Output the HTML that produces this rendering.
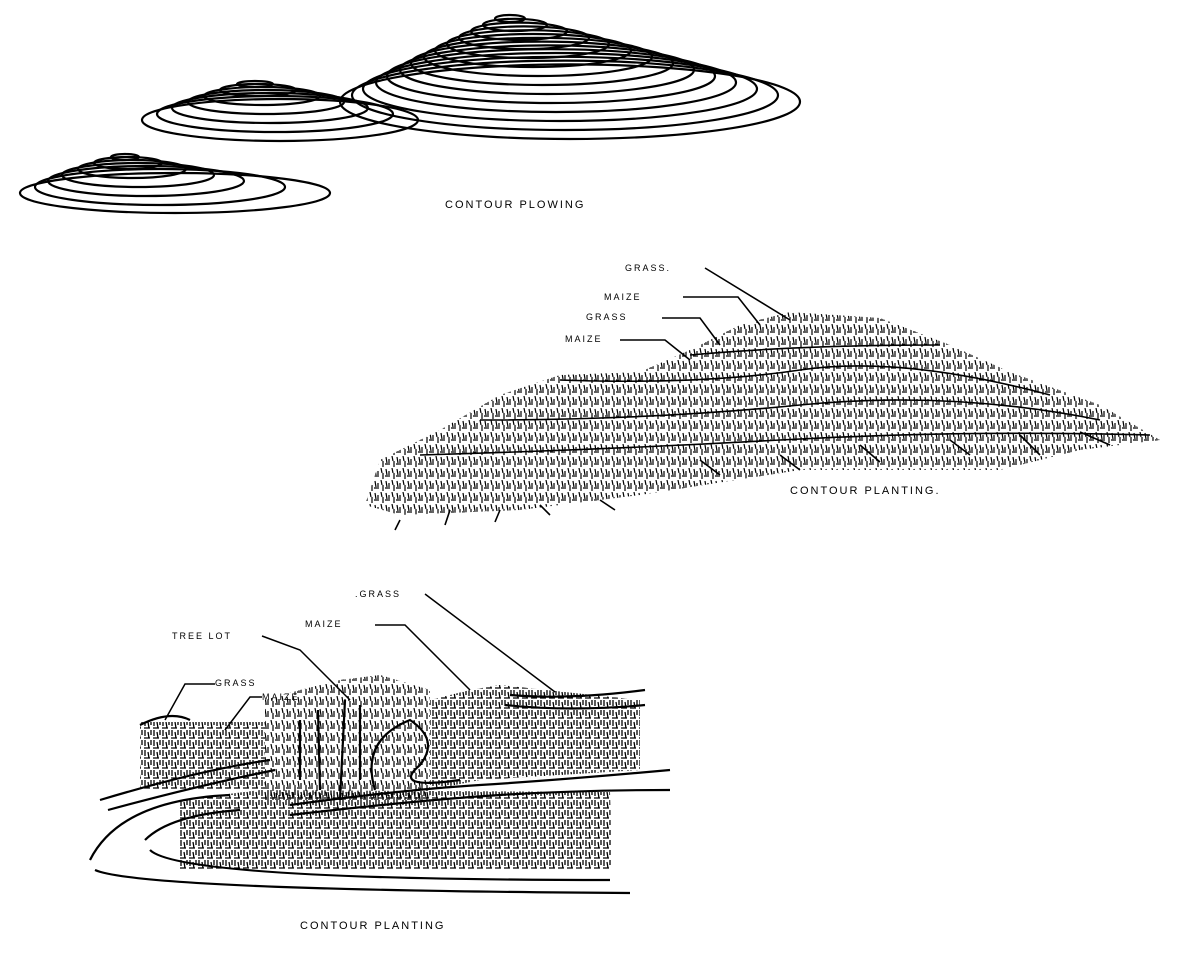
<!DOCTYPE html>
<html><head><meta charset="utf-8"><style>
html,body{margin:0;padding:0;background:#fff;}
svg{display:block}
text{font-family:"Liberation Sans",sans-serif;font-size:11px;fill:#000;letter-spacing:2px}
</style></head><body>
<svg width="1184" height="965" viewBox="0 0 1184 965" xmlns="http://www.w3.org/2000/svg">
<defs>
<pattern id="tx" width="11" height="12" patternUnits="userSpaceOnUse">
<path d="M1 1 L2 7 M4 3 L4 9 M7 0 L8 5 M9 5 L9 11 M0 8 L3 8" stroke="#000" stroke-width="1.2" fill="none"/>
</pattern>
<pattern id="tx2" width="9" height="10" patternUnits="userSpaceOnUse">
<path d="M1 0 L1 6 M4 2 L5 8 M7 0 L7 5 M0 8 L6 8" stroke="#000" stroke-width="1.3" fill="none"/>
</pattern>
</defs>
<g fill="none" stroke="#000" stroke-width="2.3" id="hills"></g>
<text x="445" y="208">CONTOUR PLOWING</text>

<path d="M365 505 L380 460 L440 430 L500 395 L560 375 L640 372 L690 350 L740 325 L790 312 L880 318 L950 345 L1010 372 L1100 405 L1160 440 L1080 450 L1000 470 L800 470 L640 495 L520 510 L400 515 Z" fill="url(#tx)"/>
<g fill="none" stroke="#000" stroke-width="1.6">
<path d="M560 380 Q700 385 800 370 T1050 395"/>
<path d="M480 420 Q650 420 800 405 T1100 420"/>
<path d="M420 455 Q600 450 780 440 T1150 435"/>
<path d="M690 355 Q800 345 940 345"/>
<path d="M400 520 L395 530 M450 510 L445 525 M500 510 L495 522 M540 505 L550 515 M600 500 L615 510 M700 460 L720 475 M780 455 L800 470 M860 445 L880 462 M950 440 L970 455 M1020 435 L1040 455 M1080 432 L1110 445"/>
<path d="M705 268 L790 320 M683 297 L738 297 L760 325 M662 318 L700 318 L720 345 M620 340 L665 340 L690 360"/>
</g>
<text x="625" y="271" style="font-size:9px">GRASS.</text>
<text x="604" y="300" style="font-size:9px">MAIZE</text>
<text x="586" y="320" style="font-size:9px">GRASS</text>
<text x="565" y="342" style="font-size:9px">MAIZE</text>
<text x="790" y="494">CONTOUR PLANTING.</text>

<rect x="140" y="722" width="125" height="68" fill="url(#tx2)"/>
<path d="M265 700 L300 690 L340 680 L380 675 L430 690 L430 800 L265 800 Z" fill="url(#tx)"/>
<path d="M430 700 L470 690 L500 685 L640 700 L640 770 L480 780 L430 790 Z" fill="url(#tx2)"/>
<path d="M180 800 L260 790 L610 792 L612 870 L180 870 Z" fill="url(#tx2)"/>
<g fill="none" stroke="#000" stroke-width="2.2">
<path d="M100 800 Q200 770 270 760"/>
<path d="M108 810 Q200 785 275 770"/>
<path d="M290 805 Q400 790 480 785 T670 770"/>
<path d="M290 815 Q420 800 500 795 T670 790"/>
<path d="M90 860 Q120 800 230 795"/>
<path d="M95 870 Q140 890 630 893"/>
<path d="M145 840 Q170 815 240 810"/>
<path d="M150 850 Q180 880 610 880"/>
<path d="M375 790 Q360 740 410 720 Q440 740 420 765 Q390 790 460 780"/>
<path d="M140 725 Q170 710 190 720"/>
<path d="M510 695 Q570 700 645 690 M505 705 Q570 712 645 705"/>
<path d="M300 780 L300 720 M320 790 L318 710 M340 800 L345 700 M360 780 L360 705"/>
</g>
<g fill="none" stroke="#000" stroke-width="1.5">
<path d="M425 594 L555 692 M375 625 L405 625 L470 690 M262 636 L300 650 L350 700 M215 684 L185 684 L165 720 M262 697 L250 697 L225 730"/>
</g>
<text x="355" y="597" style="font-size:9px">.GRASS</text>
<text x="305" y="627" style="font-size:9px">MAIZE</text>
<text x="172" y="639" style="font-size:9px">TREE LOT</text>
<text x="215" y="686" style="font-size:9px">GRASS</text>
<text x="262" y="700" style="font-size:9px">MAIZE</text>
<text x="300" y="929">CONTOUR PLANTING</text>

<g fill="none" stroke="#000" stroke-width="2.2">
<!-- big hill: top=15+3.8i, bottom=22+9i, cx 510->570, rx 15->230 -->
<ellipse cx="510" cy="18.5" rx="15" ry="3.5"/>
<ellipse cx="515" cy="24.9" rx="32" ry="6.1"/>
<ellipse cx="519" cy="31.3" rx="48" ry="8.7"/>
<ellipse cx="524" cy="37.7" rx="65" ry="11.3"/>
<ellipse cx="528" cy="44.1" rx="81" ry="13.9"/>
<ellipse cx="533" cy="50.5" rx="98" ry="16.5"/>
<ellipse cx="538" cy="56.9" rx="114" ry="19.1"/>
<ellipse cx="542" cy="63.3" rx="131" ry="21.7"/>
<ellipse cx="547" cy="69.7" rx="147" ry="24.3"/>
<ellipse cx="551" cy="76.1" rx="164" ry="26.9"/>
<ellipse cx="556" cy="82.5" rx="180" ry="29.5"/>
<ellipse cx="560" cy="88.9" rx="197" ry="32.1"/>
<ellipse cx="565" cy="95.3" rx="213" ry="34.7"/>
<ellipse cx="570" cy="101.7" rx="230" ry="37.3"/>
<!-- middle-left hill top 80->? -->
<ellipse cx="255" cy="84" rx="18" ry="3"/>
<ellipse cx="258" cy="90" rx="38" ry="6"/>
<ellipse cx="262" cy="96" rx="58" ry="9"/>
<ellipse cx="266" cy="102" rx="78" ry="12"/>
<ellipse cx="270" cy="108" rx="98" ry="15"/>
<ellipse cx="275" cy="114" rx="118" ry="18"/>
<ellipse cx="280" cy="120" rx="138" ry="21"/>
<!-- small hill -->
<ellipse cx="125" cy="157" rx="14" ry="3"/>
<ellipse cx="128" cy="163" rx="34" ry="6"/>
<ellipse cx="132" cy="169" rx="54" ry="9"/>
<ellipse cx="138" cy="175" rx="76" ry="12"/>
<ellipse cx="146" cy="181" rx="98" ry="15"/>
<ellipse cx="160" cy="187" rx="125" ry="18"/>
<ellipse cx="175" cy="193" rx="155" ry="20"/>
</g>
</svg>
</body></html>
